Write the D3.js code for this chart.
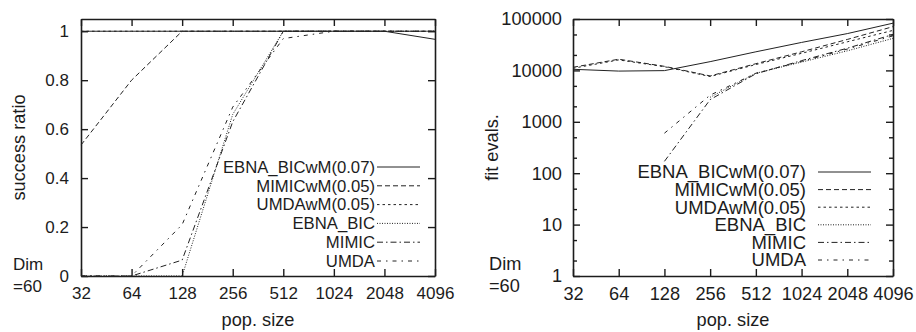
<!DOCTYPE html>
<html>
<head>
<meta charset="utf-8">
<script src="https://cdn.jsdelivr.net/npm/d3@7"></script>
<style>
  body { margin: 0; background: #fff; }
  svg text { font-family: "Liberation Sans", Arial, Helvetica, sans-serif; fill: #1c1c1c; }
</style>
</head>
<body>
<div id="chart"></div>
<script>
// ---- data ----
const popSizes = [32, 64, 128, 256, 512, 1024, 2048, 4096];
const seriesNames = ["EBNA_BICwM(0.07)", "MIMICwM(0.05)", "UMDAwM(0.05)", "EBNA_BIC", "MIMIC", "UMDA"];

// success ratio (left panel)
const ratioEbnaBicWM = [1, 1, 1, 1, 1, 1, 1, 0.967];
const ratioMimicWM   = [0.535, 0.8, 1, 1, 1, 1, 1, 1];
const ratioUmdaWM    = [1, 1, 1, 1, 1, 1, 1, 1];
const ratioEbnaBic   = [0, 0, 0, 0.66, 1, 1, 1, 1];
const ratioMimic     = [0, 0, 0.065, 0.63, 1, 1, 1, 1];
const ratioUmda      = [0, 0, 0.21, 0.69, 0.97, 1, 1, 1];

// fitness evaluations (right panel), null = no successful run
const evalsEbnaBicWM = [10500, 9700, 9900, 14800, 23000, 35000, 52000, 83000];
const evalsMimicWM   = [11500, 16500, 12000, 7800, 13500, 23000, 40000, 71000];
const evalsUmdaWM    = [11000, 16000, 11800, 7600, 13000, 21500, 36000, 60000];
const evalsEbnaBic   = [null, null, null, 3000, 8800, 14500, 24000, 42000];
const evalsMimic     = [null, null, 170, 2700, 8600, 15500, 27000, 50000];
const evalsUmda      = [null, null, 600, 3300, 8800, 15000, 26000, 47000];

const ratioTicks = [0, 0.2, 0.4, 0.6, 0.8, 1];
const evalTicks = [1, 10, 100, 1000, 10000, 100000];
const evalMinorTicks = [2, 5, 20, 50, 200, 500, 2000, 5000, 20000, 50000];

const ratioSeries = [ratioEbnaBicWM, ratioMimicWM, ratioUmdaWM, ratioEbnaBic, ratioMimic, ratioUmda];
const evalSeries = [evalsEbnaBicWM, evalsMimicWM, evalsUmdaWM, evalsEbnaBic, evalsMimic, evalsUmda];

// gnuplot-ish line types
const dashes = [null, "5,3", "2.5,3", "1,1.5", "6,3,1.5,3", "4,5,1.5,5"];

const W = 916, H = 332;
const svg = d3.select("#chart").append("svg").attr("width", W).attr("height", H);

function drawPanel(cfg) {
  const g = svg.append("g");
  const x = d3.scaleLog().base(2).domain([32, 4096]).range([cfg.left, cfg.right]);
  const y = cfg.y;
  const top = y.range()[1], bottom = y.range()[0];

  const styleAxis = sel => {
    sel.select(".domain").attr("stroke", "#1c1c1c").attr("stroke-width", 1.6);
    sel.selectAll(".tick line").attr("stroke", "#1c1c1c").attr("stroke-width", 1.4);
    sel.selectAll("text").attr("font-size", cfg.tickFont).attr("fill", "#1c1c1c").attr("font-family", null);
  };

  g.append("g").attr("transform", `translate(0,${bottom})`)
    .call(d3.axisBottom(x).tickValues(popSizes).tickFormat(d3.format("d")).tickSize(-7).tickSizeOuter(0).tickPadding(11))
    .call(styleAxis);
  g.append("g").attr("transform", `translate(0,${top})`)
    .call(d3.axisTop(x).tickValues(popSizes).tickFormat("").tickSize(-7).tickSizeOuter(0))
    .call(styleAxis);
  g.append("g").attr("transform", `translate(${cfg.left},0)`)
    .call(d3.axisLeft(y).tickValues(cfg.ticks).tickFormat(cfg.fmt).tickSize(-7).tickSizeOuter(0).tickPadding(cfg.pad))
    .call(styleAxis);
  g.append("g").attr("transform", `translate(${cfg.right},0)`)
    .call(d3.axisRight(y).tickValues(cfg.ticks).tickFormat("").tickSize(-7).tickSizeOuter(0))
    .call(styleAxis);
  if (cfg.minor) {
    g.append("g").attr("transform", `translate(${cfg.left},0)`)
      .call(d3.axisLeft(y).tickValues(cfg.minor).tickFormat("").tickSize(-4).tickSizeOuter(0))
      .call(styleAxis).select(".domain").remove();
    g.append("g").attr("transform", `translate(${cfg.right},0)`)
      .call(d3.axisRight(y).tickValues(cfg.minor).tickFormat("").tickSize(-4).tickSizeOuter(0))
      .call(styleAxis).select(".domain").remove();
  }

  // series
  const line = d3.line()
    .defined(d => d[1] != null)
    .x(d => x(d[0]))
    .y(d => y(d[1]));

  cfg.series.forEach((vals, i) => {
    g.append("path")
      .datum(popSizes.map((p, j) => [p, vals[j]]))
      .attr("d", line)
      .attr("fill", "none")
      .attr("stroke", "#222")
      .attr("stroke-width", 1)
      .attr("stroke-dasharray", dashes[i]);
  });

  // legend
  seriesNames.forEach((name, i) => {
    const ly = cfg.legY + i * cfg.legStep;
    g.append("text").attr("x", cfg.legText).attr("y", ly).attr("dy", "0.35em")
      .attr("text-anchor", "end").attr("font-size", cfg.legFont).text(name);
    g.append("line")
      .attr("x1", cfg.legX1).attr("x2", cfg.legX2).attr("y1", ly).attr("y2", ly)
      .attr("stroke", "#222").attr("stroke-width", 1)
      .attr("stroke-dasharray", dashes[i]);
  });

  // titles
  g.append("text").attr("x", (cfg.left + cfg.right) / 2).attr("y", 326)
    .attr("text-anchor", "middle").attr("font-size", 18.2).text("pop. size");
  g.append("text").attr("transform", `translate(${cfg.titleX},${(top + bottom) / 2}) rotate(-90)`)
    .attr("text-anchor", "middle").attr("font-size", 18.2).text(cfg.title);
  g.append("text").attr("x", cfg.dimX).attr("y", 270).attr("font-size", cfg.tickFont).text("Dim");
  g.append("text").attr("x", cfg.dimX).attr("y", 292).attr("font-size", cfg.tickFont).text("=60");
}

drawPanel({
  left: 81, right: 435,
  y: d3.scaleLinear().domain([0, 1.05]).range([276, 19]),
  ticks: ratioTicks, fmt: d3.format("~g"), pad: 12,
  series: ratioSeries, tickFont: 17, legFont: 16.7,
  legY: 167, legStep: 18.8, legText: 375, legX1: 377, legX2: 420,
  title: "success ratio", titleX: 25, dimX: 13
});

drawPanel({
  left: 573, right: 893,
  y: d3.scaleLog().domain([1, 100000]).range([276, 19]),
  ticks: evalTicks, minor: evalMinorTicks, fmt: d3.format("d"), pad: 11,
  series: evalSeries, tickFont: 18.2, legFont: 18.5,
  legY: 172, legStep: 17.6, legText: 806, legX1: 818, legX2: 871,
  title: "fit evals.", titleX: 498, dimX: 489
});
</script>
</body>
</html>
